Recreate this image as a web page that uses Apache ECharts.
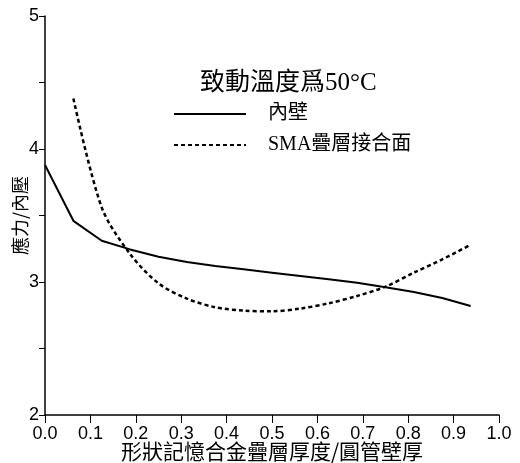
<!DOCTYPE html>
<html>
<head>
<meta charset="utf-8">
<script src="https://cdn.jsdelivr.net/npm/echarts@6/dist/echarts.min.js"></script>
<style>
  html, body { margin: 0; padding: 0; background: #fff; }
  #chart { width: 520px; height: 463px; }
</style>
</head>
<body>
<div id="chart"></div>
<script>
// thickness ratio (x) and stress ratio (y)
const xInner = [0, 0.0625, 0.125, 0.1875, 0.25, 0.3125, 0.375, 0.4375, 0.5, 0.5625, 0.625, 0.6875, 0.75, 0.8125, 0.875, 0.9375];
const yInner = [3.88, 3.46, 3.31, 3.245, 3.19, 3.15, 3.12, 3.095, 3.07, 3.045, 3.02, 2.995, 2.96, 2.925, 2.88, 2.82];
const xSma = [0.0625, 0.125, 0.1875, 0.25, 0.3125, 0.375, 0.4375, 0.5, 0.5625, 0.625, 0.6875, 0.75, 0.8125, 0.875, 0.9375];
const ySma = [4.38, 3.56, 3.21, 2.99, 2.875, 2.81, 2.785, 2.78, 2.80, 2.84, 2.895, 2.965, 3.07, 3.17, 3.28];
const seriesNames = ['內壁', 'SMA疊層接合面'];

const zip = (xs, ys) => xs.map((x, i) => [x, ys[i]]);

const initChart = function () {
  const myChart = echarts.init(document.getElementById('chart'));
  const serif = '"Liberation Serif", "Noto Sans CJK TC", serif';
  const sans = '"Liberation Sans", Arial, sans-serif';
  const cjk = '"Noto Sans CJK TC", sans-serif';
  const option = {
    animation: false,
    title: {
      text: '致動溫度爲50°C',
      left: 195,
      top: 66,
      textStyle: { fontFamily: serif, fontSize: 25, fontWeight: 'normal', color: '#000' }
    },
    legend: {
      orient: 'vertical',
      left: 168,
      top: 99,
      itemWidth: 72,
      itemHeight: 14,
      itemGap: 11,
      data: seriesNames,
      itemStyle: { opacity: 0 },
      textStyle: { fontFamily: serif, fontSize: 20, color: '#000', padding: [0, 0, 0, 17] }
    },
    grid: { left: 45, right: 21, top: 16, bottom: 48, outerBoundsMode: 'none', containLabel: false },
    xAxis: {
      type: 'value',
      min: 0,
      max: 1,
      interval: 0.1,
      name: '形狀記憶合金疊層厚度/圓管壁厚',
      nameLocation: 'middle',
      nameGap: 26,
      nameMoveOverlap: false,
      nameTextStyle: { fontFamily: cjk, fontSize: 21, color: '#000' },
      axisLine: { lineStyle: { color: '#000', width: 1.5 } },
      axisTick: { length: 8, lineStyle: { color: '#000' } },
      axisLabel: {
        fontFamily: sans, fontSize: 18, color: '#000', margin: 10,
        formatter: v => v.toFixed(1)
      },
      splitLine: { show: false }
    },
    yAxis: {
      type: 'value',
      min: 2,
      max: 5,
      interval: 0.5,
      name: '應力/內壓',
      nameLocation: 'middle',
      nameGap: 16,
      nameMoveOverlap: false,
      nameRotate: 90,
      nameTextStyle: { fontFamily: cjk, fontSize: 18, color: '#000' },
      axisLine: { show: true, lineStyle: { color: '#000', width: 1.5 } },
      axisTick: { show: true, length: 6, lineStyle: { color: '#000' } },
      axisLabel: {
        fontFamily: sans, fontSize: 18, color: '#000', margin: 6,
        formatter: v => (v % 1 === 0 ? String(v) : '')
      },
      splitLine: { show: false }
    },
    series: [
      {
        name: seriesNames[0],
        type: 'line',
        symbol: 'none',
        data: zip(xInner, yInner),
        lineStyle: { color: '#000', width: 2 },
        itemStyle: { color: '#000' }
      },
      {
        name: seriesNames[1],
        type: 'line',
        symbol: 'none',
        smooth: 0.3,
        data: zip(xSma, ySma),
        lineStyle: { color: '#000', width: 2.5, type: [4, 3] },
        itemStyle: { color: '#000' }
      }
    ]
  };
  myChart.setOption(option);
};

window.addEventListener('load', function () {
  initChart();
});
</script>
</body>
</html>
